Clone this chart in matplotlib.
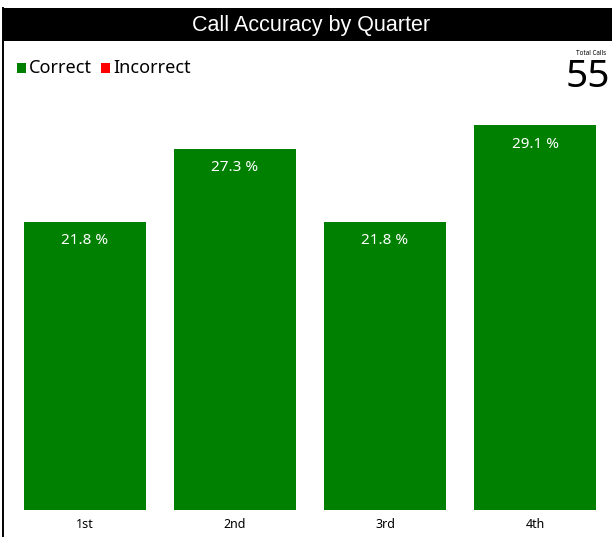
import matplotlib
matplotlib.use("Agg")
import matplotlib.pyplot as plt
from matplotlib.patches import Rectangle
from matplotlib.lines import Line2D

quarters = ["1st", "2nd", "3rd", "4th"]
correct_pct = [21.8, 27.3, 21.8, 29.1]
legend_labels = ["Correct", "Incorrect"]
legend_colors = ["#008000", "#ff0000"]
total_calls = 55
title = "Call Accuracy by Quarter"

W, H = 612, 537
fig = plt.figure(figsize=(W / 100, H / 100), dpi=100)
fig.patch.set_facecolor("white")

def fx(px):
    return px / W

def fy(py):
    return 1 - py / H

# title bar
fig.patches.append(Rectangle((fx(3), fy(41)), fx(612) - fx(3), fy(8) - fy(41),
                             transform=fig.transFigure, facecolor="black",
                             edgecolor="none", zorder=0))
fig.text(fx(311), fy(25), title, color="white", fontsize=15.5,
         family="Liberation Sans", ha="center", va="center")
# left border line
fig.lines.append(Line2D([fx(3.5), fx(3.5)], [fy(8), 0], transform=fig.transFigure,
                        color="black", lw=1.4))

# legend
lx = 17
for lab, col in zip(legend_labels, legend_colors):
    fig.patches.append(Rectangle((fx(lx), fy(73)), fx(9), fy(63) - fy(73),
                                 transform=fig.transFigure, facecolor=col,
                                 edgecolor="none"))
    fig.text(fx(lx + 12), fy(68), lab, fontsize=13, family="Noto Sans",
             ha="left", va="center", color="black")
    lx += 84

# total calls
fig.text(fx(591), fy(53), "Total Calls", fontsize=4.5, family="Noto Sans",
         ha="center", va="center", color="black")
fig.text(fx(610), fy(77), str(total_calls), fontsize=28, family="Noto Sans",
         ha="right", va="center", color="black")

# axes
ax = fig.add_axes([fx(10), fy(510), fx(610) - fx(10), fy(100) - fy(510)])
x = range(len(quarters))
bars = ax.bar(x, correct_pct, width=0.81, color="#008000")
ax.set_xlim(-0.5, len(quarters) - 0.5)
ax.set_ylim(0, 410 / 13.22)
for b, v in zip(bars, correct_pct):
    ax.annotate(f"{v} %", (b.get_x() + b.get_width() / 2, v), xytext=(0, -13.5),
                textcoords="offset points", ha="center", va="center",
                color="white", fontsize=11, family="Noto Sans")
ax.set_xticks(list(x))
ax.set_xticklabels(quarters, fontsize=9, family="Noto Sans")
ax.tick_params(axis="x", length=0, pad=6)
ax.set_yticks([])
for s in ax.spines.values():
    s.set_visible(False)

fig.savefig("out.png", dpi=100)
